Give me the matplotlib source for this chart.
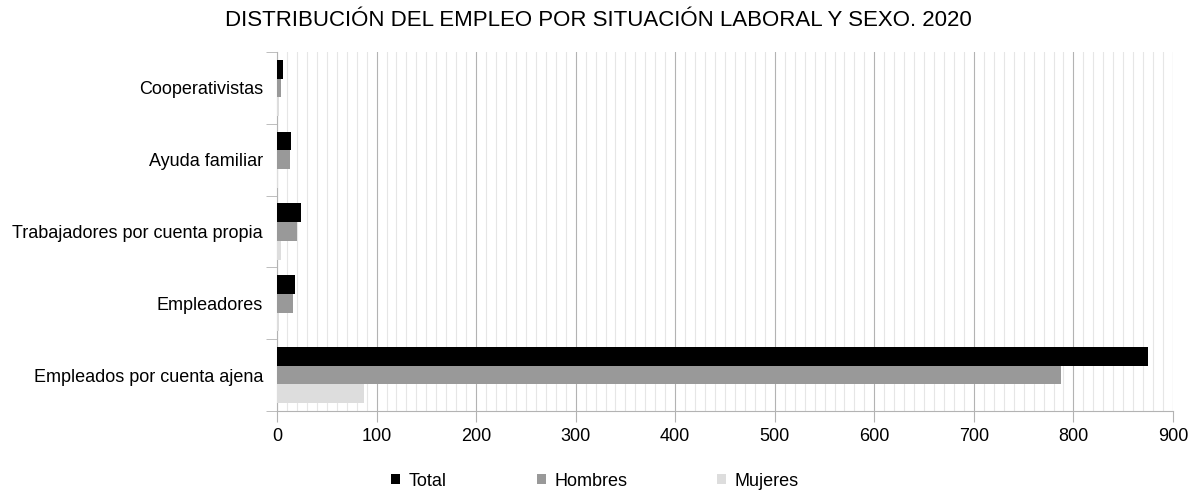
import matplotlib.pyplot as plt
import numpy as np
from matplotlib.ticker import MultipleLocator, FixedLocator

categories = ['Empleados por cuenta ajena', 'Empleadores',
              'Trabajadores por cuenta propia', 'Ayuda familiar', 'Cooperativistas']
total = [875, 18, 24, 14, 6]
hombres = [788, 16, 20, 13, 4]
mujeres = [87, 2, 4, 1, 2]

plt.rcParams['font.family'] = ['Liberation Sans', 'DejaVu Sans']

fig = plt.figure(figsize=(11.96, 4.92), dpi=100)
ax = fig.add_axes([277 / 1196, 1 - 411 / 492, 896 / 1196, 359 / 492])

y = np.arange(len(categories))
h = 0.26
ax.barh(y + h, total, height=h, color='#000000', label='Total', zorder=3)
ax.barh(y, hombres, height=h, color='#999999', label='Hombres', zorder=3)
ax.barh(y - h, mujeres, height=h, color='#dddddd', label='Mujeres', zorder=3)

ax.set_xlim(0, 900)
ax.set_ylim(-0.5, len(categories) - 0.5)
ax.xaxis.set_major_locator(MultipleLocator(100))
ax.xaxis.set_minor_locator(MultipleLocator(10))
ax.grid(axis='x', which='major', color='#b3b3b3', linewidth=0.8, zorder=0)
ax.grid(axis='x', which='minor', color='#e6e6e6', linewidth=0.8, zorder=0)

ax.set_yticks(y)
ax.set_yticklabels(categories, fontsize=13)
ax.yaxis.set_minor_locator(FixedLocator(np.arange(-0.5, len(categories), 1)))
ax.tick_params(axis='y', which='major', length=0, pad=10)
ax.tick_params(axis='y', which='minor', length=8, color='#b3b3b3')
ax.tick_params(axis='x', which='major', length=8, color='#b3b3b3', labelsize=13, pad=4)
ax.tick_params(axis='x', which='minor', length=0)

for side in ['top', 'right']:
    ax.spines[side].set_visible(False)
for side in ['left', 'bottom']:
    ax.spines[side].set_color('#b3b3b3')

fig.text(0.5, 1 - 20 / 492, 'DISTRIBUCIÓN DEL EMPLEO POR SITUACIÓN LABORAL Y SEXO. 2020',
         ha='center', va='center', fontsize=16)

fig.legend(loc='center', bbox_to_anchor=(595 / 1196, 1 - 481 / 492), ncol=3,
           frameon=False, fontsize=13, handlelength=0.5, handleheight=0.5,
           handletextpad=0.45, columnspacing=5)

fig.savefig('out.png', dpi=100)
